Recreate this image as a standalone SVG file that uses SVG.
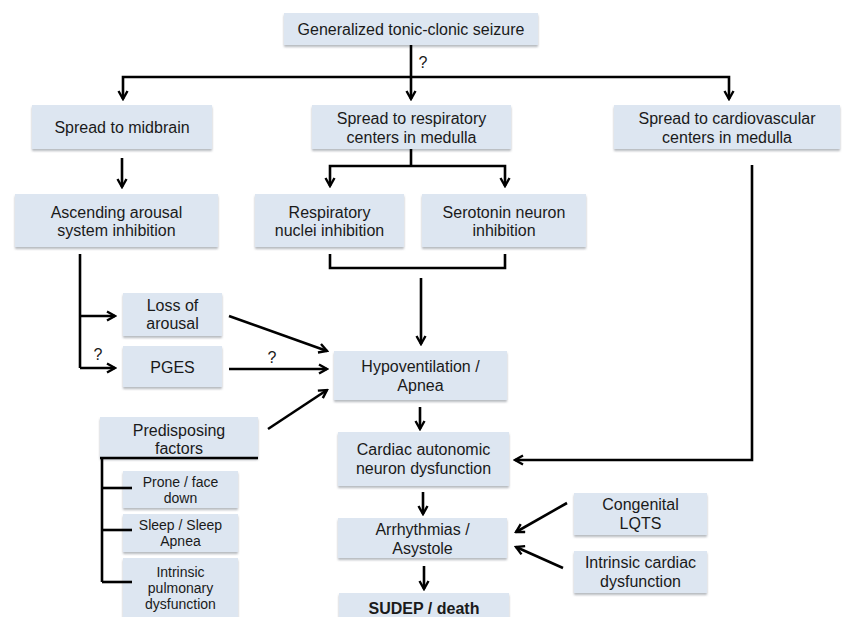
<svg xmlns="http://www.w3.org/2000/svg" width="846" height="617" viewBox="0 0 846 617">
<defs>
<filter id="sh" x="-5%" y="-10%" width="110%" height="130%">
<feDropShadow dx="0" dy="2" stdDeviation="1.2" flood-color="#7a7f88" flood-opacity="0.55"/>
</filter>
<marker id="ar" viewBox="0 0 12 12" refX="10" refY="6" markerWidth="12" markerHeight="12" markerUnits="userSpaceOnUse" orient="auto">
<path d="M2,1.5 L10,6 L2,10.5" fill="none" stroke="#000" stroke-width="2.4" stroke-linejoin="miter"/>
</marker>
</defs>
<style>
.b{fill:#dde6f1;filter:url(#sh)}
.t{font-family:"Liberation Sans",Arial,sans-serif;font-size:16px;fill:#1a1a1a;text-anchor:middle}
.s{font-size:14px}
.bold{font-weight:bold}
.c{fill:none;stroke:#000;stroke-width:2.6}
.a{marker-end:url(#ar)}
</style>
<rect width="846" height="617" fill="#fff"/>
<g id="n-gtcs"><rect class="b" x="284" y="13" width="254" height="32"/><text class="t" x="411" y="35">Generalized tonic-clonic seizure</text></g>
<g id="n-midbrain"><rect class="b" x="32" y="105" width="180" height="44"/><text class="t" x="122" y="133">Spread to midbrain</text></g>
<g id="n-resp"><rect class="b" x="312" y="105" width="199" height="44"/><text class="t" x="411.5" y="124">Spread to respiratory</text><text class="t" x="411.5" y="143">centers in medulla</text></g>
<g id="n-cardio"><rect class="b" x="614" y="105" width="226" height="44"/><text class="t" x="727" y="124">Spread to cardiovascular</text><text class="t" x="727" y="143">centers in medulla</text></g>
<g id="n-ascending"><rect class="b" x="15" y="194" width="203" height="53"/><text class="t" x="116.5" y="218">Ascending arousal</text><text class="t" x="116.5" y="236">system inhibition</text></g>
<g id="n-respnuc"><rect class="b" x="255" y="194" width="149" height="53"/><text class="t" x="329.5" y="218">Respiratory</text><text class="t" x="329.5" y="236">nuclei inhibition</text></g>
<g id="n-serotonin"><rect class="b" x="422" y="194" width="164" height="53"/><text class="t" x="504" y="218">Serotonin neuron</text><text class="t" x="504" y="236">inhibition</text></g>
<g id="n-loss"><rect class="b" x="123" y="293" width="99" height="43"/><text class="t" x="172.5" y="311">Loss of</text><text class="t" x="172.5" y="329">arousal</text></g>
<g id="n-pges"><rect class="b" x="123" y="346" width="99" height="41"/><text class="t" x="172.5" y="373">PGES</text></g>
<g id="n-hypo"><rect class="b" x="334" y="351" width="173" height="49"/><text class="t" x="420.5" y="372">Hypoventilation /</text><text class="t" x="420.5" y="391">Apnea</text></g>
<g id="n-predis"><rect class="b" x="100" y="417" width="158" height="41"/><text class="t" x="179" y="436">Predisposing</text><text class="t" x="179" y="454">factors</text></g>
<g id="n-prone"><rect class="b" x="123" y="471" width="115" height="37"/><text class="t s" x="180.5" y="487">Prone / face</text><text class="t s" x="180.5" y="503">down</text></g>
<g id="n-sleep"><rect class="b" x="123" y="514" width="115" height="38"/><text class="t s" x="180.5" y="530">Sleep / Sleep</text><text class="t s" x="180.5" y="546">Apnea</text></g>
<g id="n-pulm"><rect class="b" x="123" y="558" width="115" height="64"/><text class="t s" x="180.5" y="577">Intrinsic</text><text class="t s" x="180.5" y="593">pulmonary</text><text class="t s" x="180.5" y="609">dysfunction</text></g>
<g id="n-cardiac"><rect class="b" x="338" y="432" width="171" height="54"/><text class="t" x="423.5" y="455">Cardiac autonomic</text><text class="t" x="423.5" y="474">neuron dysfunction</text></g>
<g id="n-arr"><rect class="b" x="338" y="518" width="169" height="40"/><text class="t" x="422.5" y="535">Arrhythmias /</text><text class="t" x="422.5" y="554">Asystole</text></g>
<g id="n-sudep"><rect class="b" x="339" y="593" width="170" height="30"/><text class="t bold" x="424" y="614">SUDEP / death</text></g>
<g id="n-lqts"><rect class="b" x="574" y="493" width="133" height="42"/><text class="t" x="640.5" y="510">Congenital</text><text class="t" x="640.5" y="529">LQTS</text></g>
<g id="n-icd"><rect class="b" x="574" y="551" width="133" height="42"/><text class="t" x="640.5" y="568">Intrinsic cardiac</text><text class="t" x="640.5" y="587">dysfunction</text></g>
<g id="connectors">
<path class="c a" d="M411,45 V99"/>
<path class="c a" d="M411,77 H123 V99"/>
<path class="c a" d="M411,77 H729 V99"/>
<path class="c a" d="M122,158 V187"/>
<path class="c" d="M411,149 V166"/>
<path class="c a" d="M411,166 H505 V186"/>
<path class="c a" d="M411,166 H330 V186"/>
<path class="c" d="M330,254 V268 H505 V254"/>
<path class="c a" d="M421,278 V344"/>
<path class="c" d="M80,254 V368"/>
<path class="c a" d="M80,316 H115"/>
<path class="c a" d="M80,368 H115"/>
<path class="c a" d="M229,316 L327,351"/>
<path class="c a" d="M229,369 H327"/>
<path class="c a" d="M268,429 L327,390"/>
<path class="c" d="M100,458 H258"/>
<path class="c" d="M102,458 V582"/>
<path class="c" d="M102,488 H132"/>
<path class="c" d="M102,530 H132"/>
<path class="c" d="M102,582 H132"/>
<path class="c a" d="M420,407 V429"/>
<path class="c a" d="M752,165 V460 H515"/>
<path class="c a" d="M423,492 V514"/>
<path class="c a" d="M424,566 V589"/>
<path class="c a" d="M567,503 L516,532"/>
<path class="c a" d="M563,568 L516,547"/>
</g>
<g id="labels">
<text class="t" x="423" y="68">?</text>
<text class="t" x="98" y="360">?</text>
<text class="t" x="272" y="363">?</text>
</g>
</svg>
